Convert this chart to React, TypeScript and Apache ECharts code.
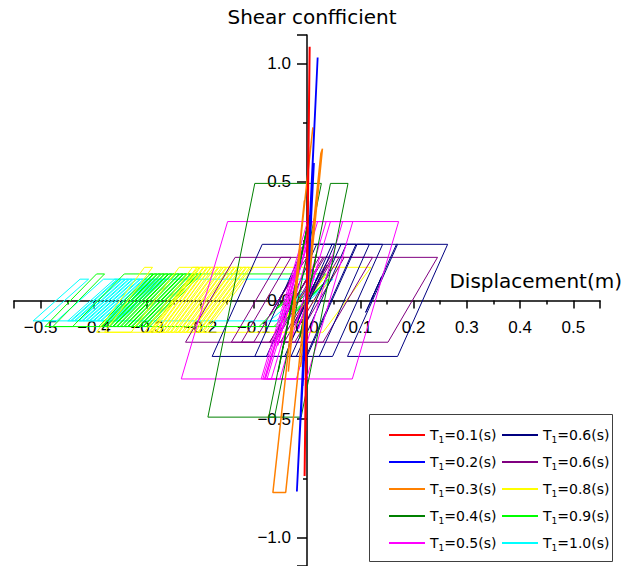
import React, { useEffect, useRef } from "react";
import * as echarts from "echarts";

// ---- Data (turning points, [displacement m, shear coefficient]) ----
const redT01: number[][] = [[0,0],[0.002,0.42],[-0.002,-0.35],[0.003,0.65],[-0.003,-0.55],[0.005,1.07],[-0.0045,-0.74],[0.002,0.45],[-0.002,-0.3],[0.001,0.15],[0,0]];
const blueT02: number[][] = [[0,0],[0.008,0.35],[-0.006,-0.27],[0.013,0.58],[-0.011,-0.47],[0.020,1.025],[-0.019,-0.806],[0.011,0.5],[-0.008,-0.36],[0.005,0.22],[-0.003,-0.12],[0.001,0.03]];
const orangeT03: number[][] = [[0,0],[0.01,0.25],[-0.008,-0.2],[0.016,0.38],[-0.012,-0.28],[0.029,0.64],[0.026,0.62],[-0.040,-0.81],[-0.064,-0.81],[0.011,0.73],[-0.03,-0.12],[-0.005,0.42],[-0.035,-0.3],[-0.012,0.22],[-0.025,-0.05]];
const greenT04: number[][] = [[0,0],[0.018,0.2],[-0.014,-0.16],[0.044,0.494],[0.077,0.494],[-0.011,-0.492],[-0.186,-0.492],[-0.098,0.494],[0.027,0.494],[-0.061,-0.492],[-0.072,-0.492],[0.0,0.31],[-0.045,-0.2],[0.005,0.36],[-0.054,-0.3],[-0.018,0.1],[-0.031,-0.05]];
const magentaT05: number[][] = [[0,0],[0.02,0.15],[-0.016,-0.12],[0.044,0.333],[0.067,0.333],[-0.020,-0.331],[-0.080,-0.331],[0.007,0.333],[0.036,0.333],[-0.051,-0.331],[-0.086,-0.331],[0.001,0.333],[0.086,0.333],[-0.001,-0.331],[-0.236,-0.331],[-0.149,0.333],[0.172,0.333],[0.085,-0.331],[-0.078,-0.331],[-0.003,0.24],[-0.06,-0.19],[0.008,0.33],[-0.079,-0.331],[-0.083,-0.331],[-0.01,0.225],[-0.05,-0.08],[-0.033,0.05],[0.01,0.333],[0.02,0.333],[-0.067,-0.331],[-0.075,-0.331],[0.0,0.24],[-0.04,-0.07],[0.005,0.27],[-0.055,-0.19],[-0.02,0.08]];
const navyT06: number[][] = [[0,0],[0.024,0.12],[-0.02,-0.1],[0.047,0.237],[0.052,0.237],[-0.042,-0.236],[-0.076,-0.236],[0.018,0.237],[0.074,0.237],[-0.020,-0.236],[-0.098,-0.236],[-0.004,0.237],[0.092,0.237],[-0.002,-0.236],[-0.030,-0.236],[0.064,0.237],[0.117,0.237],[0.023,-0.236],[0.0,-0.236],[0.094,0.237],[0.142,0.237],[0.048,-0.236],[-0.178,-0.236],[-0.084,0.237],[0.264,0.237],[0.170,-0.236],[0.076,-0.236],[0.170,0.237],[0.168,0.237],[0.12,0.0],[0.14,0.1],[0.11,-0.05],[0.125,0.02]];
const purpleT06: number[][] = [[0,0],[0.026,0.1],[-0.021,-0.08],[0.038,0.15],[-0.031,-0.12],[0.047,0.182],[0.07,0.182],[-0.023,-0.176],[-0.05,-0.176],[0.043,0.182],[0.06,0.182],[-0.033,-0.176],[-0.07,-0.176],[0.023,0.182],[0.05,0.182],[-0.043,-0.176],[-0.06,-0.176],[0.033,0.182],[0.245,0.182],[0.152,-0.176],[-0.228,-0.176],[-0.135,0.182],[0.123,0.182],[0.030,-0.176],[-0.142,-0.176],[-0.049,0.182],[-0.03,0.182],[-0.123,-0.176],[-0.10,-0.176],[-0.025,0.11],[-0.07,-0.063],[-0.01,0.168],[-0.06,-0.025],[-0.025,0.11],[-0.045,0.03],[0.0,0.182],[0.03,0.182],[-0.063,-0.176],[-0.07,-0.176],[0.01,0.13],[-0.04,-0.06],[0.015,0.15],[-0.055,-0.12],[0.0,0.09],[-0.035,-0.04]];
const yellowT08: number[][] = [[0,0],[0.033,0.1],[-0.02,-0.061],[0.046,0.14],[0.120,0.14],[0.030,-0.134],[-0.195,-0.134],
  [-0.105,0.14],[-0.100,0.14],[-0.190,-0.134],[-0.203,-0.134],
  [-0.113,0.14],[-0.108,0.14],[-0.198,-0.134],[-0.210,-0.134],
  [-0.120,0.14],[-0.115,0.14],[-0.205,-0.134],[-0.218,-0.134],
  [-0.128,0.14],[-0.123,0.14],[-0.213,-0.134],[-0.225,-0.134],
  [-0.135,0.14],[-0.130,0.14],[-0.220,-0.134],[-0.232,-0.134],
  [-0.142,0.14],[-0.137,0.14],[-0.227,-0.134],[-0.240,-0.134],
  [-0.150,0.14],[-0.145,0.14],[-0.235,-0.134],[-0.247,-0.134],
  [-0.157,0.14],[-0.152,0.14],[-0.242,-0.134],[-0.255,-0.134],
  [-0.165,0.14],[-0.160,0.14],[-0.250,-0.134],[-0.262,-0.134],
  [-0.172,0.14],[-0.167,0.14],[-0.257,-0.134],[-0.270,-0.134],
  [-0.180,0.14],[-0.175,0.14],[-0.265,-0.134],[-0.276,-0.134],
  [-0.186,0.14],[-0.181,0.14],[-0.271,-0.134],[-0.283,-0.134],
  [-0.193,0.14],[-0.188,0.14],[-0.278,-0.134],[-0.290,-0.134],
  [-0.200,0.14],[-0.195,0.14],[-0.285,-0.134],[-0.297,-0.134],
  [-0.207,0.14],[-0.202,0.14],[-0.292,-0.134],[-0.305,-0.134],
  [-0.215,0.14],[-0.205,0.14],[-0.295,-0.134],[-0.395,-0.134],
  [-0.305,0.14],[-0.290,0.14],[-0.380,-0.134],[-0.330,-0.134],[-0.240,0.14],[0.060,0.14],[-0.030,-0.134],[-0.060,-0.134],[0.005,0.064],[-0.04,-0.073],[0.0,0.05]];
const limeT09: number[][] = [[0,0],[0.03,0.07],[-0.02,-0.045],[0.04,0.09],[-0.055,-0.110],[-0.300,-0.110],
  [-0.203,0.112],[-0.198,0.112],[-0.295,-0.11],[-0.307,-0.11],
  [-0.210,0.112],[-0.205,0.112],[-0.302,-0.11],[-0.314,-0.11],
  [-0.217,0.112],[-0.212,0.112],[-0.309,-0.11],[-0.321,-0.11],
  [-0.224,0.112],[-0.219,0.112],[-0.316,-0.11],[-0.328,-0.11],
  [-0.231,0.112],[-0.226,0.112],[-0.323,-0.11],[-0.335,-0.11],
  [-0.238,0.112],[-0.233,0.112],[-0.330,-0.11],[-0.342,-0.11],
  [-0.245,0.112],[-0.240,0.112],[-0.337,-0.11],[-0.349,-0.11],
  [-0.252,0.112],[-0.247,0.112],[-0.344,-0.11],[-0.356,-0.11],
  [-0.259,0.112],[-0.254,0.112],[-0.351,-0.11],[-0.363,-0.11],
  [-0.266,0.112],[-0.261,0.112],[-0.358,-0.11],[-0.370,-0.11],
  [-0.273,0.112],[-0.268,0.112],[-0.365,-0.11],[-0.377,-0.11],
  [-0.280,0.112],[-0.275,0.112],[-0.372,-0.11],[-0.384,-0.11],
  [-0.287,0.112],[-0.282,0.112],[-0.379,-0.11],[-0.391,-0.11],
  [-0.294,0.112],[-0.289,0.112],[-0.386,-0.11],[-0.492,-0.11],
  [-0.395,0.112],[-0.380,0.112],[-0.477,-0.11],[-0.44,-0.11],[-0.343,0.112],[0.035,0.112],[-0.062,-0.11],[-0.09,-0.11],[-0.02,0.05],[-0.06,-0.04],[-0.01,0.04]];
const cyanT10: number[][] = [[0,0],[0.02,0.04],[-0.015,-0.03],[0.044,0.09],[0.049,0.09],[-0.039,-0.086],[-0.358,-0.086],
  [-0.270,0.09],[-0.265,0.09],[-0.353,-0.086],[-0.365,-0.086],
  [-0.277,0.09],[-0.272,0.09],[-0.360,-0.086],[-0.372,-0.086],
  [-0.284,0.09],[-0.279,0.09],[-0.367,-0.086],[-0.379,-0.086],
  [-0.291,0.09],[-0.286,0.09],[-0.374,-0.086],[-0.386,-0.086],
  [-0.298,0.09],[-0.293,0.09],[-0.381,-0.086],[-0.393,-0.086],
  [-0.305,0.09],[-0.300,0.09],[-0.388,-0.086],[-0.400,-0.086],
  [-0.312,0.09],[-0.307,0.09],[-0.395,-0.086],[-0.407,-0.086],
  [-0.319,0.09],[-0.314,0.09],[-0.402,-0.086],[-0.414,-0.086],
  [-0.326,0.09],[-0.321,0.09],[-0.409,-0.086],[-0.421,-0.086],
  [-0.333,0.09],[-0.328,0.09],[-0.416,-0.086],[-0.428,-0.086],
  [-0.340,0.09],[-0.335,0.09],[-0.423,-0.086],[-0.435,-0.086],
  [-0.347,0.09],[-0.342,0.09],[-0.430,-0.086],[-0.442,-0.086],
  [-0.354,0.09],[-0.349,0.09],[-0.437,-0.086],[-0.449,-0.086],
  [-0.361,0.09],[-0.356,0.09],[-0.444,-0.086],[-0.514,-0.086],
  [-0.426,0.09],[-0.41,0.09],[-0.498,-0.086],[-0.47,-0.086],[-0.382,0.09],[0.03,0.09],[-0.058,-0.086],[-0.07,-0.086],[0.0,0.05],[-0.04,-0.03],[0.01,0.06],[-0.03,-0.02],[0.0,0.03]];

// tick labels
const xTickLabels: number[] = [-0.5, -0.4, -0.3, -0.2, -0.1, 0.0, 0.1, 0.2, 0.3, 0.4, 0.5];
const yTickLabels: number[] = [-1.0, -0.5, 0.0, 0.5, 1.0];

const legendLeftNames = ["T1=0.1(s)", "T1=0.2(s)", "T1=0.3(s)", "T1=0.4(s)", "T1=0.5(s)"];
const legendRightNames = ["T1=0.6(s)", "T1=0.6(s) ", "T1=0.8(s)", "T1=0.9(s)", "T1=1.0(s)"];

// draw order (last on top)
const seriesDefs: { name: string; data: number[][]; color: string; width: number }[] = [
  { name: "T1=1.0(s)", data: cyanT10, color: "#00ffff", width: 1 },
  { name: "T1=0.9(s)", data: limeT09, color: "#00ff00", width: 1 },
  { name: "T1=0.8(s)", data: yellowT08, color: "#ffff00", width: 1 },
  { name: "T1=0.6(s) ", data: purpleT06, color: "#800080", width: 1 },
  { name: "T1=0.6(s)", data: navyT06, color: "#000080", width: 1 },
  { name: "T1=0.5(s)", data: magentaT05, color: "#ff00ff", width: 1 },
  { name: "T1=0.4(s)", data: greenT04, color: "#008000", width: 1 },
  { name: "T1=0.3(s)", data: orangeT03, color: "#ff8000", width: 1.5 },
  { name: "T1=0.2(s)", data: blueT02, color: "#0000ff", width: 1.8 },
  { name: "T1=0.1(s)", data: redT01, color: "#ff0000", width: 2 },
];

const fmt = (v: number) => {
  const s = Math.abs(v).toFixed(1);
  return v < -1e-9 ? "\u2212" + s : s;
};

const legendFormatter = (name: string) => {
  const rest = name.trim().slice(2);
  return `{a|T}{b|1}{a|${rest}}`;
};

const legendRich = {
  a: { fontFamily: "DejaVu Sans", fontSize: 14, color: "#000", lineHeight: 20 },
  b: { fontFamily: "DejaVu Sans", fontSize: 9, color: "#000", lineHeight: 20, padding: [9, 0, 0, 0] },
};

const makeLegend = (names: string[], left: number) => ({
  show: true,
  orient: "vertical",
  left,
  top: 426,
  padding: 0,
  icon: "rect",
  itemWidth: 36,
  itemHeight: 2,
  itemGap: 9,
  data: names,
  formatter: legendFormatter,
  textStyle: { fontFamily: "DejaVu Sans", fontSize: 14, color: "#000", rich: legendRich },
  selectedMode: false,
});

const labelFont = { fontFamily: "Liberation Sans", fontSize: 17 };

export default function App() {
  const ref = useRef<HTMLDivElement>(null);
  useEffect(() => {
    document.body.style.margin = "0";
    const chart = echarts.init(ref.current!, null, { renderer: "svg" });
    const borderRect = {
      type: "rect",
      id: "legendBox",
      shape: { x: 369.5, y: 414.5, width: 243, height: 147 },
      style: { fill: "none", stroke: "#404040", lineWidth: 1 },
      silent: true,
    };
    const option: any = {
      animation: false,
      backgroundColor: "#fff",
      grid: { left: 14, top: 35, width: 587, height: 532, containLabel: false },
      xAxis: {
        type: "value",
        min: -0.55,
        max: 0.55,
        splitNumber: 11,
        name: "Displacement(m)",
        nameLocation: "end",
        nameGap: 22,
        nameTextStyle: { fontFamily: "DejaVu Sans", fontSize: 20, color: "#000", align: "right", verticalAlign: "bottom", padding: [0, 0, 10, 0] },
        axisLine: { show: true, onZero: true, lineStyle: { color: "#000", width: 1.5 } },
        axisTick: { show: true, length: 8, inside: false, lineStyle: { color: "#000", width: 1.5 } },
        minorTick: { show: true, splitNumber: 2, length: 4, lineStyle: { color: "#000", width: 1.5 } },
        axisLabel: { show: false },
        splitLine: { show: false },
        minorSplitLine: { show: false },
      },
      yAxis: {
        type: "value",
        min: -1.12,
        max: 1.12,
        splitNumber: 4,
        name: "Shear confficient",
        nameLocation: "end",
        nameGap: 8,
        nameTextStyle: { fontFamily: "DejaVu Sans", fontSize: 20, color: "#000", padding: [0, 0, 0, 10] },
        axisLine: { show: true, onZero: true, lineStyle: { color: "#000", width: 1.5 } },
        axisTick: { show: true, length: 10, inside: false, lineStyle: { color: "#000", width: 1.5 } },
        minorTick: { show: true, splitNumber: 2, length: 4, lineStyle: { color: "#000", width: 1.5 } },
        axisLabel: { show: false },
        splitLine: { show: false },
        minorSplitLine: { show: false },
      },
      legend: [makeLegend(legendLeftNames, 389), makeLegend(legendRightNames, 502)],
      graphic: [borderRect],
      series: seriesDefs.map((s) => ({
        type: "line",
        name: s.name,
        data: s.data,
        color: s.color,
        symbol: "none",
        showSymbol: false,
        smooth: false,
        z: 3,
        lineStyle: { color: s.color, width: s.width },
        itemStyle: { color: s.color },
        emphasis: { disabled: true },
        silent: true,
      })),
    };
    chart.setOption(option);

    // tick labels placed through the axes' own scales
    const labels: any[] = [];
    xTickLabels.forEach((v, i) => {
      const p = chart.convertToPixel({ xAxisIndex: 0, yAxisIndex: 0 }, [v, 0]) as number[];
      labels.push({
        type: "text",
        id: "xl" + i,
        x: p[0],
        y: p[1] + 18,
        z: 1,
        silent: true,
        style: { text: fmt(v), fill: "#000", ...labelFont, align: "center", verticalAlign: "top", textAlign: "center", textVerticalAlign: "top" },
      });
    });
    yTickLabels.forEach((v, i) => {
      const p = chart.convertToPixel({ xAxisIndex: 0, yAxisIndex: 0 }, [0, v]) as number[];
      labels.push({
        type: "text",
        id: "yl" + i,
        x: p[0] - 16,
        y: p[1],
        z: 1,
        silent: true,
        style: { text: fmt(v), fill: "#000", ...labelFont, align: "right", verticalAlign: "middle", textAlign: "right", textVerticalAlign: "middle" },
      });
    });
    chart.setOption({ graphic: [borderRect, ...labels] });
    return () => chart.dispose();
  }, []);
  return <div ref={ref} style={{ width: 625, height: 566 }} />;
}
